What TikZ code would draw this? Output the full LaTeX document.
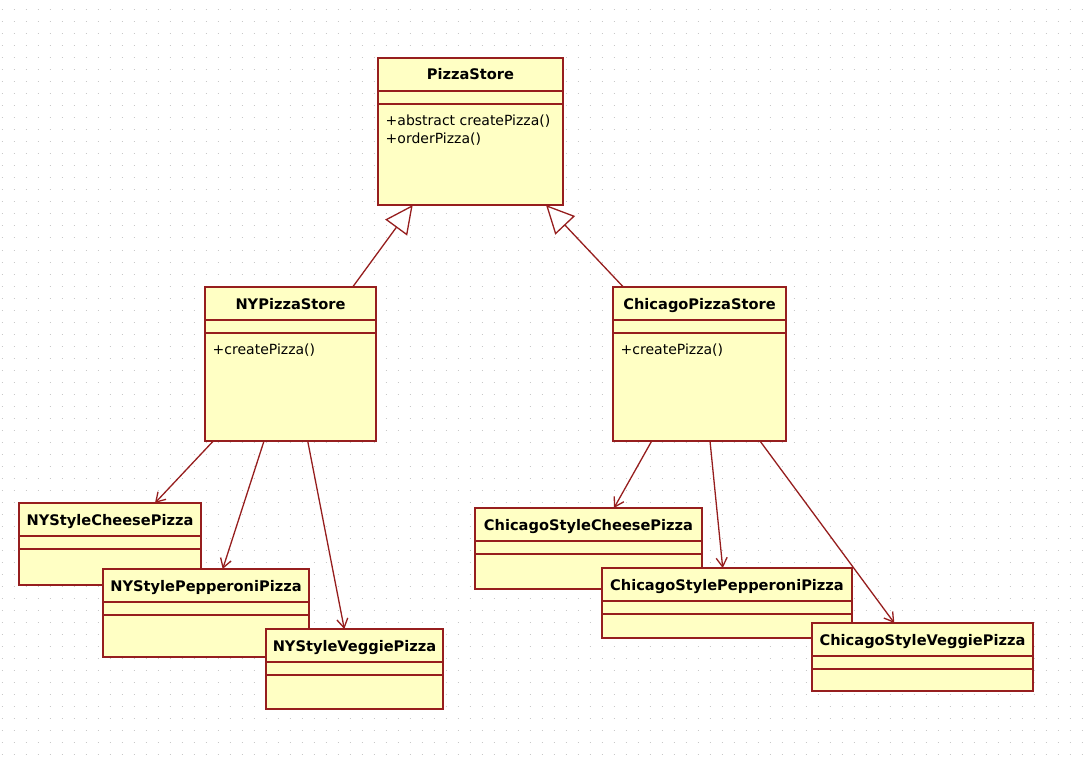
\documentclass[tikz,border=0pt]{standalone}
\usepackage{fontspec}
\setmainfont{DejaVu Sans}
\usetikzlibrary{arrows.meta}
\definecolor{umlborder}{RGB}{150,30,30}
\definecolor{umlfill}{RGB}{255,255,196}
\definecolor{griddot}{RGB}{200,200,200}
\newcommand{\UMLclass}[6]{%
  \node[classbox, minimum width=#4pt, minimum height=#5pt] (#1) at (#2,#3) {};
  \draw[sepline] ([yshift=-33pt]#1.north west) -- ([yshift=-33pt]#1.north east);
  \draw[sepline] ([yshift=-46pt]#1.north west) -- ([yshift=-46pt]#1.north east);
  \node[titletext] (#1-title) at ([yshift=-22pt]#1.north) {#6};
}
\begin{document}
\begin{tikzpicture}[x=1pt,y=-1pt,
  classbox/.style={draw=umlborder, fill=umlfill, line width=2pt, rectangle, inner sep=0pt, outer sep=0pt, anchor=north west},
  sepline/.style={draw=umlborder, line width=2pt},
  titletext/.style={font=\bfseries\fontsize{14.6}{17}\selectfont, inner sep=0pt, anchor=base},
  optext/.style={font=\fontsize{14}{18}\selectfont, inner sep=0pt, anchor=base west},
  gen/.style={draw=umlborder, line width=1.3pt, -{Triangle[length=28pt, width=27pt, fill=white]}},
  dep/.style={draw=umlborder, line width=1.3pt, -{Straight Barb[length=9pt, width=11pt]}}
]
\useasboundingbox (0,0) rectangle (1083,759);
\fill[white] (0,0) rectangle (1083,759);
% dotted grid
\foreach \j in {0,...,62}
  \draw[griddot, line width=1pt, dash pattern=on 1pt off 11pt] (1.5,{10+12*\j}) -- (1083,{10+12*\j});

% classes
\UMLclass{ps}{378}{58}{185}{147}{PizzaStore}
\node[optext] (ps-op1) at ([xshift=7.5pt,yshift=-67.7pt]ps.north west) {+abstract createPizza()};
\node[optext] (ps-op2) at ([xshift=7.5pt,yshift=-86pt]ps.north west) {+orderPizza()};

\UMLclass{nyps}{205}{287}{171}{154}{NYPizzaStore}
\node[optext] (nyps-op1) at ([xshift=7.5pt,yshift=-67.5pt]nyps.north west) {+createPizza()};

\UMLclass{cps}{613}{287}{173}{154}{ChicagoPizzaStore}
\node[optext] (cps-op1) at ([xshift=7.5pt,yshift=-67.5pt]cps.north west) {+createPizza()};

\UMLclass{nycheese}{19}{503}{182}{82}{NYStyleCheesePizza}
\UMLclass{nypep}{103}{569}{206}{88}{NYStylePepperoniPizza}
\UMLclass{nyveg}{266}{629}{177}{80}{NYStyleVeggiePizza}

\UMLclass{ccheese}{475}{508}{227}{81}{ChicagoStyleCheesePizza}
\UMLclass{cpep}{602}{568}{250}{70}{ChicagoStylePepperoniPizza}
\UMLclass{cveg}{812}{623}{221}{68}{ChicagoStyleVeggiePizza}

% generalizations
\draw[gen] ([xshift=147.7pt]nyps.north west) -- ([xshift=34.7pt]ps.south west);
\draw[gen] ([xshift=10.3pt]cps.north west) -- ([xshift=168pt]ps.south west);

% dependencies
\draw[dep] ([xshift=8.3pt]nyps.south west) -- ([xshift=136pt]nycheese.north west);
\draw[dep] ([xshift=59pt]nyps.south west) -- ([xshift=119.7pt]nypep.north west);
\draw[dep] ([xshift=102.7pt]nyps.south west) -- ([xshift=78.3pt]nyveg.north west);

\draw[dep] ([xshift=38.7pt]cps.south west) -- ([xshift=139pt]ccheese.north west);
\draw[dep] ([xshift=97pt]cps.south west) -- ([xshift=120.7pt]cpep.north west);
\draw[dep] ([xshift=147pt]cps.south west) -- ([xshift=82.3pt]cveg.north west);
\end{tikzpicture}
\end{document}
